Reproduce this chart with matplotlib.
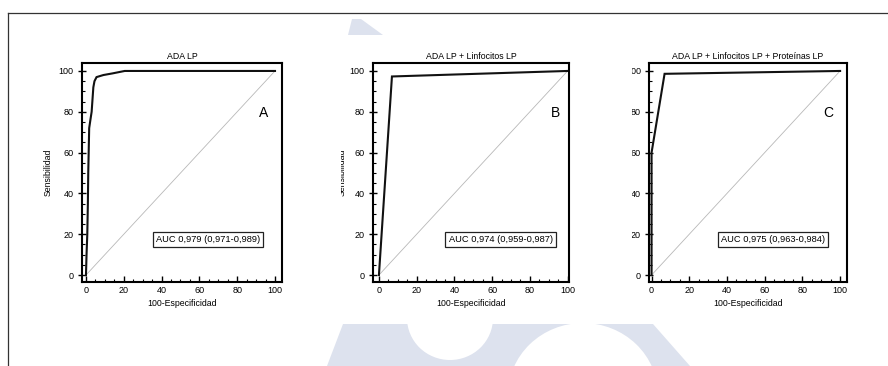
import matplotlib.pyplot as plt
from matplotlib.patches import Polygon, Ellipse, Rectangle
from matplotlib.transforms import Affine2D
from matplotlib.ticker import MultipleLocator

# Datos de las curvas ROC
roc_a_x = [0, 0.3, 0.7, 1.0, 1.2, 1.7, 2.5, 3.0, 3.9, 4.5, 5.6, 9.2, 14, 20.5, 100]
roc_a_y = [0, 10, 20, 35, 50, 72, 77, 80, 92, 95, 97, 98, 98.8, 100, 100]
roc_b_x = [0, 6.9, 100]
roc_b_y = [0, 97.3, 100]
roc_c_x = [0, 0, 6.9, 100]
roc_c_y = [0, 60, 98.6, 100]

titulos = ["ADA LP", "ADA LP + Linfocitos LP", "ADA LP + Linfocitos LP + Proteínas LP"]
auc_textos = ["AUC 0,979 (0,971-0,989)", "AUC 0,974 (0,959-0,987)", "AUC 0,975 (0,963-0,984)"]
letras = ["A", "B", "C"]

W, H = 888, 366
plt.rcParams['font.family'] = ['Liberation Sans', 'DejaVu Sans']
fig = plt.figure(figsize=(W / 100, H / 100), dpi=100)
fig.patch.set_facecolor('white')

# transformación en píxeles (origen arriba a la izquierda)
pix = Affine2D().scale(1 / W, -1 / H).translate(0, 1) + fig.transFigure

# marca de agua
agua = '#dde2ee'
for art in [
    Polygon([(352, 19), (361, 19), (383, 35), (348, 35)], closed=True),
    Polygon([(327, 366), (343, 324), (653, 324), (690, 366)], closed=True),
]:
    art.set_transform(pix)
    art.set_facecolor(agua)
    art.set_edgecolor('none')
    art.set_zorder(-3)
    fig.add_artist(art)
for cx, cy, w, h in [(450, 318, 86, 84), (583, 395, 150, 144)]:
    e = Ellipse((cx, cy), w, h, transform=pix, facecolor='white', edgecolor='none', zorder=-2)
    fig.add_artist(e)

# bordes del documento
fig.add_artist(plt.Line2D([8, W], [13, 13], transform=pix, color='#333333', lw=0.9))
fig.add_artist(plt.Line2D([8, 8], [13, H], transform=pix, color='#333333', lw=0.9))

# posiciones de los paneles en píxeles: izquierda, derecha, xlim
paneles = [(82, 282, (-2.1, 103.7)), (372.7, 569.3, (-3.3, 100.9)), (649.3, 846.7, (-1.2, 103.5))]
curvas = [(roc_a_x, roc_a_y), (roc_b_x, roc_b_y), (roc_c_x, roc_c_y)]
top, bottom = 63, 282

fs = 6.3
for i, ((l, r, xl), (cx_, cy_)) in enumerate(zip(paneles, curvas)):
    ax = fig.add_axes([l / W, 1 - bottom / H, (r - l) / W, (bottom - top) / H])
    ax.plot([0, 100], [0, 100], color='#b8b8b8', lw=0.6)
    ax.plot(cx_, cy_, color='#111111', lw=1.5, solid_joinstyle='miter')
    ax.set_xlim(*xl)
    ax.set_ylim(-3.4, 103.9)
    ax.xaxis.set_major_locator(MultipleLocator(20))
    ax.yaxis.set_major_locator(MultipleLocator(20))
    ax.xaxis.set_minor_locator(MultipleLocator(5))
    ax.yaxis.set_minor_locator(MultipleLocator(5))
    ax.tick_params(axis='y', which='major', direction='inout', length=6, width=1)
    ax.tick_params(axis='x', which='major', direction='in', length=4, width=1)
    ax.tick_params(which='major', labelsize=fs + 0.2, pad=3)
    ax.tick_params(which='minor', direction='in', length=2.5, width=0.8)
    for s in ax.spines.values():
        s.set_linewidth(1.5)
    ax.set_title(titulos[i], fontsize=fs, pad=3)
    ax.set_xlabel("100-Especificidad", fontsize=fs, labelpad=3)
    if i == 0:
        ax.set_ylabel("Sensibilidad", fontsize=fs, labelpad=4)
    ax.text(64.5, 17.5, auc_textos[i], fontsize=6.7, ha='center', va='center',
            bbox=dict(boxstyle='square,pad=0.35', facecolor='white', edgecolor='#222222', lw=0.9))
    ax.text(93.7, 79.6, letras[i], fontsize=10, ha='center', va='center')

# etiqueta cortada del panel B
fig.text(342.5 / W, 1 - 172 / H, "Sensibilidad", rotation=90, fontsize=fs,
         ha='center', va='center')
fig.add_artist(Rectangle((300, 100), 41, 150, transform=pix, facecolor='white',
                         edgecolor='none', zorder=5))
# etiquetas cortadas del panel C
fig.add_artist(Rectangle((600, 55), 31.5, 232, transform=pix, facecolor='white',
                         edgecolor='none', zorder=5))

fig.savefig('out.png', dpi=100)
